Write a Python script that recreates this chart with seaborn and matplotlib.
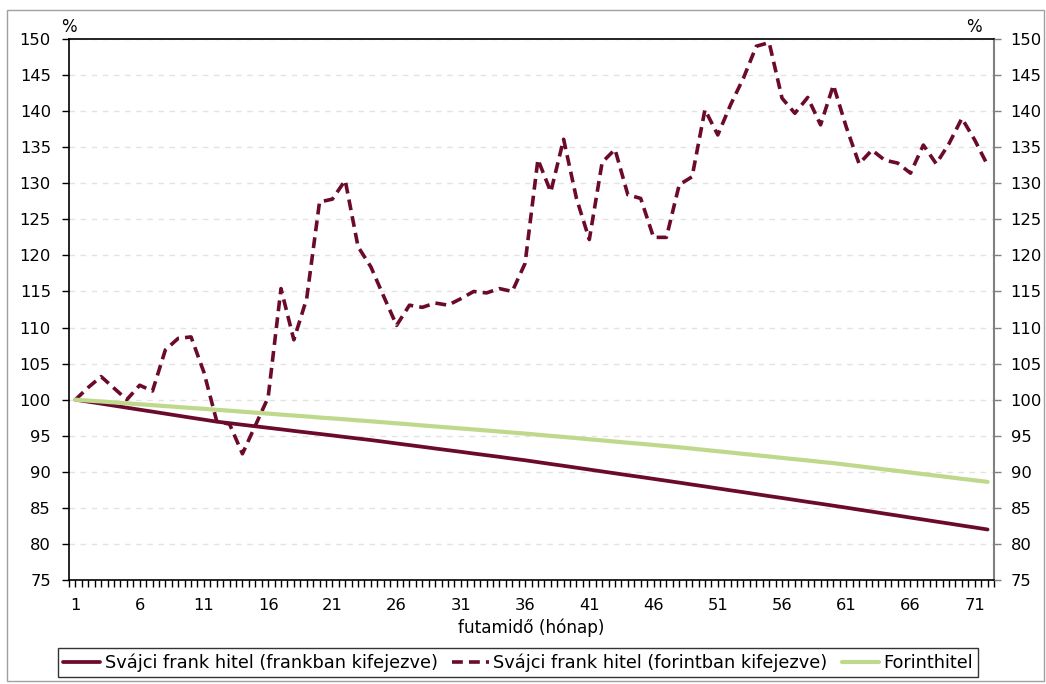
import numpy as np
import pandas as pd
import matplotlib
matplotlib.use("Agg")
import matplotlib.pyplot as plt
import matplotlib.patches as mpatches
import seaborn as sns

months = list(range(1, 73))

frank_chf = [100.00, 99.72, 99.45, 99.17, 98.89, 98.61, 98.34, 98.06, 97.78, 97.50, 97.23, 96.95,
             96.74, 96.52, 96.31, 96.10, 95.89, 95.67, 95.46, 95.25, 95.04, 94.82, 94.61, 94.40,
             94.17, 93.93, 93.70, 93.47, 93.23, 93.00, 92.77, 92.53, 92.30, 92.07, 91.83, 91.60,
             91.34, 91.08, 90.83, 90.57, 90.31, 90.05, 89.79, 89.53, 89.28, 89.02, 88.76, 88.50,
             88.23, 87.97, 87.70, 87.43, 87.17, 86.90, 86.63, 86.37, 86.10, 85.83, 85.57, 85.30,
             85.03, 84.75, 84.48, 84.20, 83.93, 83.65, 83.38, 83.10, 82.83, 82.55, 82.28, 82.00]

frank_huf = [100.0, 101.7, 103.2, 101.6, 100.0, 102.0, 101.2, 106.9, 108.5, 108.7, 103.8, 97.0,
             96.6, 92.5, 96.4, 100.3, 115.4, 108.3, 114.0, 127.4, 127.8, 130.4, 121.2, 118.4,
             114.3, 110.3, 113.1, 112.8, 113.4, 113.1, 114.0, 115.0, 114.8, 115.4, 115.0, 118.9,
             133.3, 128.8, 136.1, 127.9, 122.2, 132.9, 134.7, 128.4, 127.9, 122.5, 122.5, 129.8,
             130.9, 140.2, 136.7, 140.9, 144.6, 149.0, 149.5, 141.8, 139.7, 141.9, 138.1, 143.6,
             137.8, 132.7, 134.6, 133.2, 132.8, 131.4, 135.3, 132.7, 135.5, 139.0, 136.0, 132.5]

forint = [100.00, 99.87, 99.75, 99.62, 99.49, 99.36, 99.24, 99.11, 98.98, 98.85, 98.73, 98.60,
          98.47, 98.33, 98.20, 98.07, 97.93, 97.80, 97.67, 97.53, 97.40, 97.27, 97.13, 97.00,
          96.86, 96.72, 96.58, 96.43, 96.29, 96.15, 96.01, 95.87, 95.73, 95.58, 95.44, 95.30,
          95.14, 94.98, 94.83, 94.67, 94.51, 94.35, 94.19, 94.03, 93.88, 93.72, 93.56, 93.40,
          93.22, 93.03, 92.85, 92.67, 92.48, 92.30, 92.12, 91.93, 91.75, 91.57, 91.38, 91.20,
          90.98, 90.77, 90.55, 90.33, 90.12, 89.90, 89.68, 89.47, 89.25, 89.03, 88.82, 88.60]

series_names = ["Svájci frank hitel (frankban kifejezve)",
                "Svájci frank hitel (forintban kifejezve)",
                "Forinthitel"]
x_ticks = list(range(1, 72, 5))
y_ticks = list(range(75, 151, 5))
x_label = "futamidő (hónap)"

MAROON = "#6B0A2C"
GREEN = "#BFD98C"

sns.set_theme(style="white")
plt.rcParams["font.family"] = ["DejaVu Sans"]
plt.rcParams["text.color"] = "black"
plt.rcParams["axes.labelcolor"] = "black"
plt.rcParams["xtick.color"] = "black"
plt.rcParams["ytick.color"] = "black"

fig = plt.figure(figsize=(10.46, 6.84), dpi=100)
ax = fig.add_axes([69 / 1046, 1 - 580 / 684, (994 - 69) / 1046, (580 - 39) / 684])

df = pd.DataFrame({"month": months, "chf": frank_chf, "huf": frank_huf, "ft": forint})
sns.lineplot(data=df, x="month", y="chf", ax=ax, color=MAROON, lw=2.7,
             label=series_names[0])
sns.lineplot(data=df, x="month", y="huf", ax=ax, color=MAROON, lw=2.6,
             label=series_names[1], linestyle=(0, (3.0, 1.7)))
sns.lineplot(data=df, x="month", y="ft", ax=ax, color=GREEN, lw=3.0,
             label=series_names[2])

ax.set_xlim(0.5, 72.5)
ax.set_ylim(75, 150)
ax.set_yticks(y_ticks)
ax.set_xticks(x_ticks)
ax.set_xticks(np.arange(0.5, 72.6, 0.5), minor=True)
ax.set_xlabel(x_label, fontsize=12.2, labelpad=4, color="black")
ax.set_ylabel("")
ax.tick_params(axis="y", which="major", direction="out", length=5, width=1,
               color="black", labelcolor="black", labelsize=11.8, pad=8, left=True)
ax.tick_params(axis="x", which="both", direction="out", length=5, width=1,
               color="black", labelcolor="black", labelsize=11.8, pad=8, bottom=True)
ax.yaxis.grid(True, color="#E3E3E3", linestyle=(0, (4, 4)), lw=1)
ax.xaxis.grid(False)
for s in ["left", "bottom", "top"]:
    ax.spines[s].set_color("black")
    ax.spines[s].set_linewidth(1.2)
ax.spines["right"].set_color("#808080")
ax.spines["right"].set_linewidth(1.5)

ax2 = ax.twinx()
ax2.set_ylim(75, 150)
ax2.set_yticks(y_ticks)
ax2.tick_params(axis="y", direction="out", length=5, width=1, color="#808080",
                labelcolor="black", labelsize=11.8, pad=7, right=True)
for s in ax2.spines.values():
    s.set_visible(False)
ax2.grid(False)

ax.text(0.0, 1.005, "%", transform=ax.transAxes, fontsize=12, ha="center",
        va="bottom", color="black")
ax.text(0.978, 1.005, "%", transform=ax.transAxes, fontsize=12, ha="center",
        va="bottom", color="black")

handles, labels = ax.get_legend_handles_labels()
ax.get_legend().remove()
leg = fig.legend(handles, labels, loc="center", ncol=3,
                 bbox_to_anchor=(518 / 1046, 1 - 662.5 / 684), fontsize=12.75,
                 frameon=True, fancybox=False, edgecolor="black",
                 handlelength=2.1, handletextpad=0.25, columnspacing=0.8,
                 borderpad=0.3, labelcolor="black")
leg.get_frame().set_linewidth(1.0)

fig.patches.append(mpatches.Rectangle((7 / 1046, 1 - 681 / 684), 1037 / 1046, 671 / 684,
                                      transform=fig.transFigure, fill=False,
                                      edgecolor="#A0A0A0", lw=1.0))

fig.savefig("out.png", dpi=100)
